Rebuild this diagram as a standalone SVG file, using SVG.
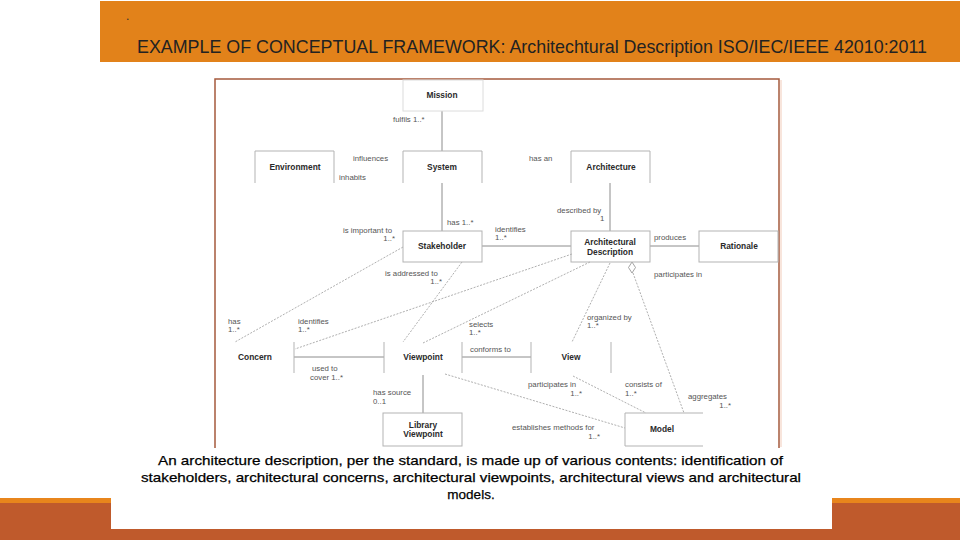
<svg xmlns="http://www.w3.org/2000/svg" width="960" height="540" viewBox="0 0 960 540">
<style>
.nm{font-family:"Liberation Sans",Arial,sans-serif;font-size:8.4px;font-weight:bold;fill:#2a2a2a;text-anchor:middle}
.lb{font-family:"Liberation Sans",Arial,sans-serif;font-size:7.8px;fill:#555}
.box{fill:none;stroke:#b3b3b3;stroke-width:1}
.sol{fill:none;stroke:#8c8c8c;stroke-width:1}
.dsh{fill:none;stroke:#9a9a9a;stroke-width:0.8;stroke-dasharray:2 1.4}
.cap{font-family:"Liberation Sans",Arial,sans-serif;font-size:13.5px;fill:#000;stroke:#000;stroke-width:0.25}
</style>
<rect x="0" y="0" width="960" height="540" fill="#ffffff"/>
<!-- header band -->
<rect x="100" y="1" width="860" height="61" fill="#E2821A"/>
<text x="126" y="20" font-family="Liberation Sans, sans-serif" font-size="12" fill="#333">.</text>
<text x="137" y="53" font-family="Liberation Sans, sans-serif" font-size="18.5" fill="#222" textLength="790" lengthAdjust="spacingAndGlyphs">EXAMPLE OF CONCEPTUAL FRAMEWORK: Architechtural Description ISO/IEC/IEEE 42010:2011</text>
<!-- bottom bars -->
<rect x="0" y="498" width="960" height="6" fill="#E8851C"/>
<rect x="0" y="503" width="960" height="37" fill="#BF5A2C"/>
<!-- diagram panel -->
<rect x="215" y="79" width="564" height="372" fill="#ffffff" stroke="#A55A3C" stroke-width="1.5"/>
<line x1="781" y1="80" x2="781" y2="447" stroke="#f6ddd0" stroke-width="1.5"/>
<!-- connectors -->
<g id="connectors">
<path class="sol" d="M442,111 V151"/>
<path class="sol" d="M442,183 V231"/>
<path class="sol" d="M610,183 V231"/>
<path class="sol" d="M482,246 H571"/>
<path class="sol" d="M650,246 H699"/>
<path class="sol" d="M294,357 H384"/>
<path class="sol" d="M462,357 H531"/>
<path class="sol" d="M423,375 V413"/>
<path class="dsh" d="M403,247 L235,342"/>
<path class="dsh" d="M462,262 L403,342"/>
<path class="dsh" d="M572,254 L295,349"/>
<path class="dsh" d="M590,262 L423,343"/>
<path class="dsh" d="M610,263 L572,342"/>
<path class="dsh" d="M633,273 L684,413"/>
<path class="dsh" d="M573,376 L646,413"/>
<path class="dsh" d="M445,374 L625,428"/>
<polygon points="632,262 635.5,267.5 632,273 628.5,267.5" fill="#fff" stroke="#8c8c8c" stroke-width="0.8"/>
<text class="lb" x="393" y="122">fulfils 1..*</text>
<text class="lb" x="353" y="161">influences</text>
<text class="lb" x="339" y="180">inhabits</text>
<text class="lb" x="529" y="161">has an</text>
<text class="lb" x="557" y="213">described by</text>
<text class="lb" x="600" y="221">1</text>
<text class="lb" x="447" y="225">has 1..*</text>
<text class="lb" x="343" y="233">is important to</text>
<text class="lb" x="395" y="241" text-anchor="end">1..*</text>
<text class="lb" x="495" y="232">identifies</text>
<text class="lb" x="495" y="240">1..*</text>
<text class="lb" x="654" y="240">produces</text>
<text class="lb" x="654" y="277">participates in</text>
<text class="lb" x="385" y="276">is addressed to</text>
<text class="lb" x="442" y="284" text-anchor="end">1..*</text>
<text class="lb" x="228" y="324">has</text>
<text class="lb" x="228" y="332">1..*</text>
<text class="lb" x="298" y="324">identifies</text>
<text class="lb" x="298" y="332">1..*</text>
<text class="lb" x="469" y="327">selects</text>
<text class="lb" x="469" y="335">1..*</text>
<text class="lb" x="587" y="320">organized by</text>
<text class="lb" x="587" y="328">1..*</text>
<text class="lb" x="470" y="352">conforms to</text>
<text class="lb" x="312" y="371">used to</text>
<text class="lb" x="310" y="380">cover 1..*</text>
<text class="lb" x="373" y="395">has source</text>
<text class="lb" x="373" y="404">0..1</text>
<text class="lb" x="528" y="387">participates in</text>
<text class="lb" x="582" y="396" text-anchor="end">1..*</text>
<text class="lb" x="625" y="387">consists of</text>
<text class="lb" x="625" y="396">1..*</text>
<text class="lb" x="688" y="399">aggregates</text>
<text class="lb" x="731" y="408" text-anchor="end">1..*</text>
<text class="lb" x="512" y="430">establishes methods for</text>
<text class="lb" x="600" y="439" text-anchor="end">1..*</text>
</g>
<!-- nodes -->
<g id="mission"><rect x="403" y="80" width="80" height="31" fill="none" stroke="#dcdcdc"/><text class="nm" x="442" y="98">Mission</text></g>
<g id="environment"><path class="box" d="M255,183 V151 H334 V183"/><text class="nm" x="295" y="170">Environment</text></g>
<g id="system"><path class="box" d="M403,183 V151 H482 V183"/><text class="nm" x="442" y="170">System</text></g>
<g id="architecture"><path class="box" d="M571,183 V151 H650 V183"/><text class="nm" x="611" y="170">Architecture</text></g>
<g id="stakeholder"><rect class="box" x="403" y="231" width="79" height="31"/><text class="nm" x="442" y="249">Stakeholder</text></g>
<g id="architectural-description"><rect class="box" x="571" y="231" width="79" height="31"/><text class="nm" x="610" y="245">Architectural</text><text class="nm" x="610" y="255">Description</text></g>
<g id="rationale"><rect class="box" x="699" y="231" width="79" height="31"/><text class="nm" x="739" y="249">Rationale</text></g>
<g id="concern"><path class="box" d="M294,342 V373"/><text class="nm" x="255" y="360">Concern</text></g>
<g id="viewpoint"><path class="box" d="M384,342 V373 M462,342 V373"/><text class="nm" x="423" y="360">Viewpoint</text></g>
<g id="view"><path class="box" d="M531,342 V373 M611,342 V373"/><text class="nm" x="571" y="360">View</text></g>
<g id="library-viewpoint"><rect class="box" x="383" y="413" width="79" height="33"/><text class="nm" x="423" y="428">Library</text><text class="nm" x="423" y="437">Viewpoint</text></g>
<g id="model"><path class="box" d="M703,413 H625 V446 H703"/><text class="nm" x="662" y="432">Model</text></g>
<!-- caption -->
<rect x="111" y="448" width="721" height="81" fill="#ffffff"/>
<text class="cap" x="158" y="465" textLength="625" lengthAdjust="spacingAndGlyphs">An architecture description, per the standard, is made up of various contents: identification of</text>
<text class="cap" x="141" y="482" textLength="660" lengthAdjust="spacingAndGlyphs">stakeholders, architectural concerns, architectural viewpoints, architectural views and architectural</text>
<text class="cap" x="471" y="499" text-anchor="middle">models.</text>
</svg>
